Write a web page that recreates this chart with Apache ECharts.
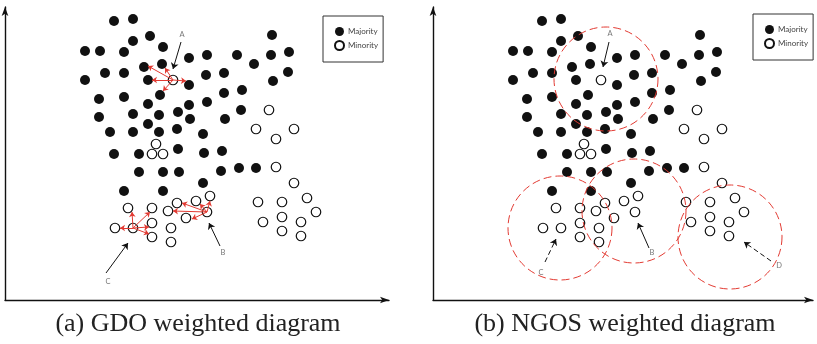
<!DOCTYPE html>
<html>
<head>
<meta charset="utf-8">
<script src="https://cdn.jsdelivr.net/npm/echarts@6/dist/echarts.min.js"></script>
<style>
  html, body { margin: 0; padding: 0; background: #fff; }
  #chart { width: 817px; height: 344px; }
</style>
</head>
<body>
<div id="chart"></div>
<script>
// same point layout in both panels (x right, y up from each panel's axis origin)
const majority = [
  [109, 279], [128, 281], [145, 264], [128, 259], [158, 253], [80, 249], [95, 249], [119, 248],
  [184, 242], [202, 245], [232, 245], [249, 236], [267, 265], [266, 245], [284, 248], [139, 233],
  [157, 236], [100, 227], [119, 227], [201, 225], [219, 227], [283, 228], [80, 220], [143, 220],
  [184, 215], [268, 219], [94, 201], [119, 203], [155, 205], [219, 207], [237, 210], [143, 196],
  [184, 195], [202, 198], [94, 183], [128, 186], [154, 185], [173, 188], [185, 181], [220, 181],
  [236, 190], [105, 168], [128, 168], [143, 176], [154, 168], [172, 171], [198, 166], [109, 146],
  [134, 146], [173, 151], [199, 147], [217, 149], [134, 128], [158, 128], [174, 128], [216, 129],
  [234, 132], [251, 132], [198, 117], [119, 109], [158, 109]
];
const minority = [
  [168, 220], [264, 190], [251, 171], [271, 161], [289, 171], [151, 156], [147, 146], [158, 146],
  [271, 133], [289, 117], [123, 92], [147, 92], [163, 89], [172, 97], [191, 99], [205, 104],
  [202, 88], [181, 82], [147, 77], [110, 72], [128, 72], [147, 63], [166, 72], [166, 58],
  [253, 98], [277, 98], [302, 102], [311, 88], [258, 78], [277, 83], [296, 78], [277, 69], [296, 64]
];

// GDO: red arrows from A, C, B to their neighbours [x1, y1, x2, y2]
const gdoNeighbourArrows = [
  [168, 220, 143, 234], [168, 220, 160, 232], [168, 220, 147, 220], [168, 220, 181, 219], [168, 220, 158, 209],
  [128, 72, 127, 88], [128, 72, 145, 88], [128, 72, 115, 72], [128, 72, 144, 73], [128, 72, 144, 66],
  [202, 88, 168, 89], [202, 88, 177, 97], [202, 88, 195, 96], [202, 88, 205, 99], [202, 88, 187, 81]
];
const gdoPointers = [[176, 258, 168, 231], [215, 54, 204, 77], [101, 27, 123, 57]];
const gdoLabels = [['A', 177, 265], ['B', 218, 47], ['C', 103, 18]];

// NGOS: neighbourhood circles and pointers
const ngosCircles = [[173, 221], [127, 72], [201, 89], [297, 63]];
const ngosRadius = 52;
const ngosPointers = [[176, 258, 170, 233], [216, 52, 205, 77]];
const ngosDashedPointers = [[112, 38, 123, 61], [338, 39, 311, 58]];
const ngosLabels = [['A', 177, 266], ['B', 219, 47], ['C', 108, 27], ['D', 346, 34]];

const captions = ['(a) GDO weighted diagram', '(b) NGOS weighted diagram'];

const red = '#e23a32';
const ink = '#111';

const axisLine = {
  show: true,
  symbol: ['none', 'arrow'],
  symbolSize: [5, 9],
  lineStyle: { color: ink, width: 1.4 }
};

function axis(max) {
  return {
    type: 'value', min: 0, max: max,
    axisLine: axisLine, axisTick: { show: false }, axisLabel: { show: false }, splitLine: { show: false }
  };
}

function pointSeries(index) {
  return [
    {
      name: 'Majority', type: 'scatter', xAxisIndex: index, yAxisIndex: index,
      symbolSize: 10, itemStyle: { color: ink, opacity: 1 }, data: majority, z: 3
    },
    {
      name: 'Minority', type: 'scatter', xAxisIndex: index, yAxisIndex: index,
      symbolSize: 9.5, itemStyle: { color: '#fff', borderColor: ink, borderWidth: 1.2, opacity: 1 },
      data: minority, z: 3
    }
  ];
}

function arrowSeries(index, list, color, dashed) {
  return {
    type: 'lines', coordinateSystem: 'cartesian2d', xAxisIndex: index, yAxisIndex: index,
    symbol: ['none', 'arrow'], symbolSize: dashed === 'red' ? 5 : 6,
    lineStyle: { color: color, width: 1, opacity: 1, type: dashed === true ? [5, 3] : 'solid' },
    data: list.map((a) => ({ coords: [[a[0], a[1]], [a[2], a[3]]] })),
    z: 5
  };
}

function labelSeries(index, list) {
  return {
    type: 'scatter', xAxisIndex: index, yAxisIndex: index, symbolSize: 0, silent: true,
    label: { show: true, position: 'inside', formatter: (p) => p.name, color: '#555', fontSize: 7.5, fontFamily: 'Lato' },
    data: list.map((l) => ({ name: l[0], value: [l[1], l[2]] })),
    z: 6
  };
}

const legendBase = {
  orient: 'vertical', icon: 'circle', itemWidth: 9, itemHeight: 9, itemGap: 4,
  padding: [11, 5, 11, 11], borderColor: '#333', borderWidth: 1, backgroundColor: '#fff',
  textStyle: { color: '#444', fontSize: 8, fontFamily: 'Lato', padding: [0, 0, 0, -1] },
  data: ['Majority', 'Minority'], selectedMode: false
};

const chart = echarts.init(document.getElementById('chart'));
chart.setOption({
  animation: false,
  grid: [
    { left: 5, top: 7, width: 384, height: 293 },
    { left: 433, top: 7, width: 380, height: 293 }
  ],
  xAxis: [Object.assign({ gridIndex: 0 }, axis(384)), Object.assign({ gridIndex: 1 }, axis(380))],
  yAxis: [Object.assign({ gridIndex: 0 }, axis(293)), Object.assign({ gridIndex: 1 }, axis(293))],
  legend: [
    Object.assign({ left: 323, top: 16 }, legendBase),
    Object.assign({ left: 753, top: 14 }, legendBase)
  ],
  graphic: captions.map((text, i) => ({
    type: 'text', x: i === 0 ? 198 : 625, y: 324,
    style: { text: text, fill: '#222', font: '26px "Liberation Serif"', textAlign: 'center', textVerticalAlign: 'middle' }
  })),
  series: [
    ...pointSeries(0),
    arrowSeries(0, gdoNeighbourArrows, red, 'red'),
    arrowSeries(0, gdoPointers, ink, false),
    labelSeries(0, gdoLabels),
    ...pointSeries(1),
    {
      type: 'custom', xAxisIndex: 1, yAxisIndex: 1, silent: true, z: 4,
      data: ngosCircles,
      renderItem: (params, api) => {
        const c = api.coord([api.value(0), api.value(1)]);
        const r = api.size([ngosRadius, 0])[0];
        return {
          type: 'circle',
          shape: { cx: c[0], cy: c[1], r: r },
          style: { fill: 'none', stroke: red, lineWidth: 1, lineDash: [8, 4] }
        };
      }
    },
    arrowSeries(1, ngosPointers, ink, false),
    arrowSeries(1, ngosDashedPointers, ink, true),
    labelSeries(1, ngosLabels)
  ]
});
</script>
</body>
</html>
